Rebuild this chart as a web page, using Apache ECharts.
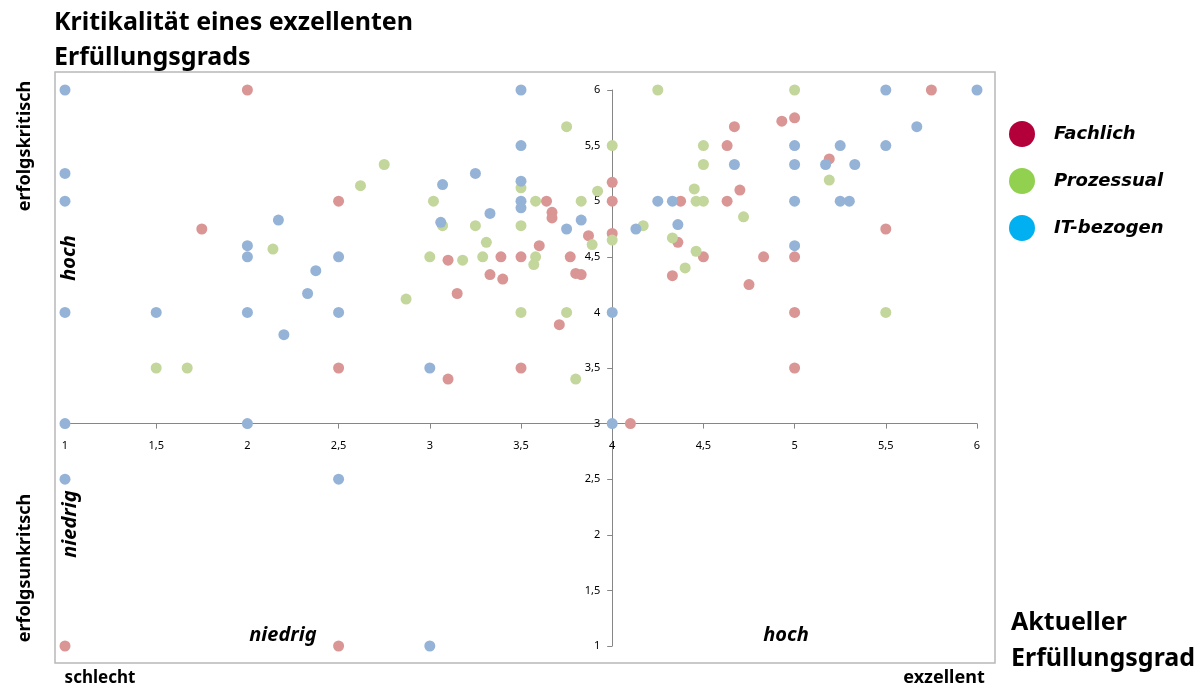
<!DOCTYPE html>
<html>
<head>
<meta charset="utf-8">
<script src="https://cdn.jsdelivr.net/npm/echarts@6/dist/echarts.min.js"></script>
<style>
  html, body { margin: 0; padding: 0; background: #fff; }
  #chart { width: 1201px; height: 690px; }
</style>
</head>
<body>
<div id="chart"></div>
<script>
  // values: [Aktueller Erfüllungsgrad, Kritikalität]
  const fachlich = [
    [2, 6], [1.75, 4.75], [2.5, 5], [2.5, 3.5], [2.5, 1], [1, 1],
    [3.64, 5], [3.67, 4.9], [3.67, 4.85], [3.87, 4.69], [4, 5.17], [4, 5], [4, 4.71],
    [3.6, 4.6], [3.1, 4.47], [3.39, 4.5], [3.5, 4.5], [3.77, 4.5], [3.33, 4.34], [3.4, 4.3],
    [3.8, 4.35], [3.83, 4.34], [3.15, 4.17], [3.71, 3.89], [3.1, 3.4], [3.5, 3.5],
    [5.75, 6], [5, 5.75], [4.93, 5.72], [4.67, 5.67], [4.63, 5.5], [5.19, 5.38], [4.7, 5.1],
    [4.375, 5], [4.63, 5], [5.5, 4.75], [4.36, 4.63], [4.5, 4.5], [4.83, 4.5], [5, 4.5],
    [4.33, 4.33], [4.75, 4.25], [5, 4], [5, 3.5], [4.1, 3]
  ];
  const prozessual = [
    [2.14, 4.57], [1.5, 3.5], [1.67, 3.5], [3.75, 5.67], [4, 5.5], [2.75, 5.33], [2.62, 5.14],
    [3.5, 5.12], [3.92, 5.09], [3.02, 5], [3.58, 5], [3.83, 5], [3.07, 4.78], [3.25, 4.78],
    [3.5, 4.78], [3.31, 4.63], [3.89, 4.61], [4, 4.65], [3, 4.5], [3.18, 4.47], [3.29, 4.5],
    [3.58, 4.5], [3.57, 4.43], [2.87, 4.12], [3.5, 4], [3.75, 4], [3.8, 3.4],
    [4.25, 6], [5, 6], [4.5, 5.5], [4.5, 5.33], [5.19, 5.19], [4.45, 5.11], [4.46, 5], [4.5, 5],
    [4.72, 4.86], [4.17, 4.78], [4.33, 4.67], [4.46, 4.55], [4.4, 4.4], [5.5, 4]
  ];
  const itBezogen = [
    [1, 6], [1, 5.25], [1, 5], [2.17, 4.83], [2, 4.6], [2, 4.5], [2.5, 4.5], [2.375, 4.375],
    [2.33, 4.17], [1, 4], [1.5, 4], [2, 4], [2.5, 4], [2.2, 3.8], [1, 3], [2, 3], [1, 2.5],
    [2.5, 2.5], [3, 1], [3.5, 6], [3.5, 5.5], [3.25, 5.25], [3.07, 5.15], [3.5, 5.18], [3.5, 5],
    [3.5, 4.94], [3.33, 4.89], [3.83, 4.83], [3.06, 4.81], [3.75, 4.75], [3, 3.5], [4, 4], [4, 3],
    [5.5, 6], [6, 6], [5.67, 5.67], [5, 5.5], [5.25, 5.5], [5.5, 5.5], [4.67, 5.33], [5, 5.33],
    [5.17, 5.33], [5.33, 5.33], [4.25, 5], [4.33, 5], [5, 5], [5.25, 5], [5.3, 5],
    [4.13, 4.75], [4.36, 4.79], [5, 4.6]
  ];
  const seriesNames = ['Fachlich', 'Prozessual', 'IT-bezogen'];
  const pointColors = ['#d99694', '#c3d69b', '#95b3d7'];
  const legendColors = ['#b3003a', '#92d050', '#00b0f0'];

  // axes cross at x = 4 / y = 3
  const xMin = 1, xMax = 6, yMin = 1, yMax = 6, xCross = 4, yCross = 3;
  const gridLeft = 65, gridRight = 224, gridTop = 90, gridBottom = 44;
  const gridW = 1201 - gridLeft - gridRight;
  const gridH = 690 - gridTop - gridBottom;

  const font = '"Noto Sans", sans-serif';
  const comma = v => String(v).replace('.', ',');

  const chart = echarts.init(document.getElementById('chart'));
  chart.setOption({
    animation: false,
    textStyle: { fontFamily: font },
    grid: { left: gridLeft, right: gridRight, top: gridTop, bottom: gridBottom },
    legend: {
      orient: 'vertical',
      left: 1004,
      top: 116,
      itemWidth: 26,
      itemHeight: 26,
      itemGap: 21,
      icon: 'circle',
      data: seriesNames.map((n, i) => ({ name: n, itemStyle: { color: legendColors[i] } })),
      textStyle: {
        fontFamily: '"DejaVu Sans", sans-serif', fontSize: 18, fontStyle: 'italic', fontWeight: 'bold',
        color: '#000', padding: [0, 0, 0, 14]
      }
    },
    xAxis: {
      type: 'value', min: xMin, max: xMax, interval: 0.5,
      position: 'bottom',
      offset: -(yCross - yMin) / (yMax - yMin) * gridH,
      splitLine: { show: false },
      axisLine: { lineStyle: { color: '#868686' } },
      axisTick: { length: 5, lineStyle: { color: '#868686' } },
      axisLabel: { color: '#000', fontSize: 11, margin: 17, formatter: comma }
    },
    yAxis: {
      type: 'value', min: yMin, max: yMax, interval: 0.5,
      position: 'left',
      offset: -(xCross - xMin) / (xMax - xMin) * gridW,
      splitLine: { show: false },
      axisLine: { lineStyle: { color: '#868686' } },
      axisTick: { length: 5, lineStyle: { color: '#868686' } },
      axisLabel: { color: '#000', fontSize: 11, margin: 12, formatter: comma }
    },
    graphic: [
      { type: 'rect', z: -1, shape: { x: 55, y: 72, width: 940, height: 591 },
        style: { fill: 'none', stroke: '#b8b8b8', lineWidth: 1.5 } },
      { type: 'text', x: 54, y: 5,
        style: { text: 'Kritikalität eines exzellenten\nErfüllungsgrads', font: 'bold 25px ' + font,
          lineHeight: 35, fill: '#000' } },
      { type: 'text', x: 1011, y: 605,
        style: { text: 'Aktueller\nErfüllungsgrad', font: 'bold 25px ' + font, lineHeight: 36, fill: '#000' } },
      { type: 'text', x: 25, y: 146, rotation: Math.PI / 2,
        style: { text: 'erfolgskritisch', font: 'bold 18px ' + font, align: 'center', verticalAlign: 'middle', fill: '#000' } },
      { type: 'text', x: 25, y: 568, rotation: Math.PI / 2,
        style: { text: 'erfolgsunkritsch', font: 'bold 18px ' + font, align: 'center', verticalAlign: 'middle', fill: '#000' } },
      { type: 'text', x: 69, y: 258, rotation: Math.PI / 2,
        style: { text: 'hoch', font: 'italic bold 20px ' + font, align: 'center', verticalAlign: 'middle', fill: '#000' } },
      { type: 'text', x: 70, y: 524, rotation: Math.PI / 2,
        style: { text: 'niedrig', font: 'italic bold 20px ' + font, align: 'center', verticalAlign: 'middle', fill: '#000' } },
      { type: 'text', x: 283, y: 635,
        style: { text: 'niedrig', font: 'italic bold 20px ' + font, align: 'center', verticalAlign: 'middle', fill: '#000' } },
      { type: 'text', x: 786, y: 635,
        style: { text: 'hoch', font: 'italic bold 20px ' + font, align: 'center', verticalAlign: 'middle', fill: '#000' } },
      { type: 'text', x: 100, y: 678,
        style: { text: 'schlecht', font: 'bold 17px ' + font, align: 'center', verticalAlign: 'middle', fill: '#000' } },
      { type: 'text', x: 944, y: 678,
        style: { text: 'exzellent', font: 'bold 18px ' + font, align: 'center', verticalAlign: 'middle', fill: '#000' } }
    ],
    series: [fachlich, prozessual, itBezogen].map((d, i) => ({
      name: seriesNames[i],
      type: 'scatter',
      symbolSize: 11,
      itemStyle: { color: pointColors[i], opacity: 1 },
      data: d
    }))
  });
</script>
</body>
</html>
